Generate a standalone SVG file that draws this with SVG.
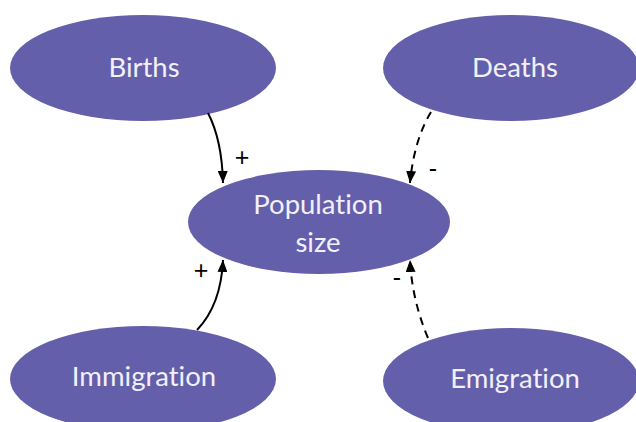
<svg xmlns="http://www.w3.org/2000/svg" width="636" height="422" viewBox="0 0 636 422">
<defs>
<marker id="ah" viewBox="0 0 12 10" refX="12" refY="5" markerWidth="12" markerHeight="10" markerUnits="userSpaceOnUse" orient="auto">
<path d="M0,0 L12,5 L0,10 Z" fill="#000"/>
</marker>
</defs>
<style>
.node{fill:#645FAA;}
.lbl{font-family:Lato,"Open Sans",sans-serif;font-size:27.5px;fill:#F2F0FA;text-anchor:middle;font-variant-ligatures:none;}
.c{fill:none;stroke:#000;stroke-width:2;marker-end:url(#ah);}
.d{stroke-dasharray:8,6;}
.sign{font-family:"Liberation Sans",Arial,sans-serif;font-size:25px;fill:#000;text-anchor:middle;}
</style>
<rect width="636" height="422" fill="#fff"/>
<g id="births"><ellipse class="node" cx="143" cy="68" rx="133" ry="53"/><text class="lbl" x="144" y="77">Births</text></g>
<g id="deaths"><ellipse class="node" cx="511" cy="68" rx="128" ry="53"/><text class="lbl" x="515" y="77">Deaths</text></g>
<g id="population"><ellipse class="node" cx="319" cy="222" rx="131" ry="52"/><text class="lbl" x="318" y="214">Population</text><text class="lbl" x="318" y="252">size</text></g>
<g id="immigration"><ellipse class="node" cx="143" cy="379" rx="133" ry="53"/><text class="lbl" x="144" y="386">Immigration</text></g>
<g id="emigration"><ellipse class="node" cx="511" cy="381" rx="128" ry="53"/><text class="lbl" x="515" y="388">Emigration</text></g>
<g id="connectors">
<path class="c" d="M208,113 Q222,140 223,183"/>
<path class="c d" d="M431,112 Q414,140 410,183"/>
<path class="c" d="M197,330 Q221,305 223,260"/>
<path class="c d" d="M428,338 Q412,300 410,260"/>
<text class="sign" x="242" y="166">+</text>
<text class="sign" x="433" y="177">-</text>
<text class="sign" x="201" y="279">+</text>
<text class="sign" x="397" y="286">-</text>
</g>
</svg>
